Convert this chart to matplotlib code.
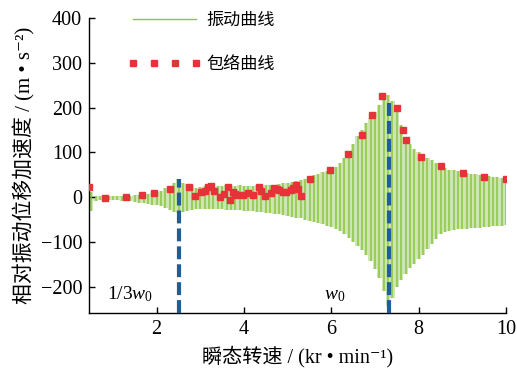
import numpy as np
import matplotlib
matplotlib.use("Agg")
import matplotlib.pyplot as plt

plt.rcParams['font.family'] = ['Liberation Serif', 'DejaVu Serif', 'Noto Sans CJK SC']
plt.rcParams['mathtext.fontset'] = 'custom'
plt.rcParams['mathtext.rm'] = 'Liberation Serif'
plt.rcParams['mathtext.it'] = 'Liberation Serif:italic'

# ---- data ----
speed = np.round(np.arange(0.5, 10.01, 0.1), 2)  # kr/min sample positions
vib_upper = [12, 4, 3, 3, 2, 3, 2, 3, 4, 3,
             5, 6, 7, 8, 10, 12, 15, 20, 25, 32,
             40, 33, 30, 25, 20, 24, 26, 25, 24, 26,
             25, 27, 26, 25, 27, 26, 25, 26, 27, 26,
             27, 28, 28, 30, 31, 32, 34, 36, 38, 42,
             46, 49, 53, 56, 59, 62, 68, 76, 88, 100,
             120, 136, 150, 165, 178, 190, 205, 220, 228, 215,
             192, 162, 135, 120, 108, 100, 92, 88, 83, 77,
             71, 66, 62, 60, 58, 56, 54, 53, 51, 50,
             48, 47, 46, 45, 44, 43]
vib_lower = [-30, -8, -6, -6, -5, -6, -6, -8, -8, -9,
             -10, -12, -12, -14, -16, -18, -20, -24, -28, -32,
             -35, -33, -30, -28, -26, -25, -25, -26, -26, -27,
             -27, -28, -28, -28, -29, -30, -30, -31, -32, -33,
             -34, -35, -37, -38, -40, -41, -43, -45, -47, -50,
             -53, -55, -58, -60, -63, -66, -70, -75, -82, -90,
             -100, -108, -118, -128, -142, -160, -180, -210, -242, -225,
             -200, -185, -170, -158, -148, -138, -128, -115, -103, -92,
             -82, -78, -75, -72, -71, -70, -70, -69, -69, -68,
             -67, -66, -65, -64, -63, -62]

env_x = [0.45, 0.81, 1.29, 1.66, 1.95, 2.30, 2.73, 2.88, 3.02, 3.10, 3.17, 3.25,
         3.32, 3.44, 3.55, 3.63, 3.67, 3.74, 3.80, 3.85, 3.97, 4.08, 4.20, 4.35,
         4.40, 4.47, 4.62, 4.69, 4.75, 4.81, 4.90, 4.96, 5.07, 5.13, 5.19, 5.23,
         5.30, 5.51, 5.97, 6.38, 6.70, 6.93, 7.17, 7.50, 7.64, 7.72, 8.06, 8.51,
         9.02, 9.50, 10.0]
env_y = [24, -2, 1, 5, 9, 18, 24, 2, 13, 15, 24, 26,
         15, 1, 8, 22, -5, 11, 8, 6, 6, 9, 6, 22,
         14, 3, 9, 20, 18, 16, 13, 11, 16, 20, 28, 18,
         3, 42, 62, 97, 138, 183, 226, 200, 151, 128, 91, 69,
         54, 46, 42]

res_x = [2.52, 7.32]     # 1/3 w0 and w0
res_top = [41, 221]

xticks = [2, 4, 6, 8, 10]
yticks = [-200, -100, 0, 100, 200, 300, 400]

green = '#8cc63e'
green_fill = '#cce5b2'
red = '#e8323a'
blue = '#1f5f98'

W, H = 517, 368
fig = plt.figure(figsize=(W / 100, H / 100), dpi=100)
ax = fig.add_axes([89 / W, 1 - 313 / H, (506 - 89) / W, (313 - 18) / H])

ymin, ymax = -258, 400
ax.fill_between(speed, vib_lower, vib_upper, color=green_fill, lw=0, step='mid')
ax.vlines(speed, vib_lower, vib_upper, color=green, lw=1.1)
ax.plot([], [], color=green, lw=1.0, label='振动曲线')

ax.plot(env_x, env_y, linestyle='none', marker='s', ms=4, color=red,
        mec=red, label='包络曲线', zorder=4)

for xv, tv in zip(res_x, res_top):
    ax.plot([xv, xv], [ymin, tv], color=blue, lw=3, dashes=(3.1, 1.2),
            solid_capstyle='butt', dash_capstyle='butt', zorder=5)

ax.set_xlim(0.45, 10)
ax.set_ylim(ymin, ymax)
ax.set_xticks(xticks)
ax.set_yticks(yticks)
ax.tick_params(direction='in', length=4, width=1, labelsize=14.5, pad=5)
for s in ['top', 'right']:
    ax.spines[s].set_visible(False)
for s in ['left', 'bottom']:
    ax.spines[s].set_linewidth(1.0)

ax.set_xlabel('瞬态转速 / (kr • min⁻¹)', fontsize=14.5, labelpad=5)
ax.set_ylabel('相对振动位移加速度 / (m • s⁻²)', fontsize=15, labelpad=4)

ax.text(0.86, -217, r'$\mathregular{1/3}\mathit{w}_{\mathregular{0}}$', fontsize=14,
        ha='left', va='center')
ax.text(5.84, -220, r'$\mathit{w}_{\mathregular{0}}$', fontsize=14,
        ha='left', va='center')

leg = ax.legend(loc='upper left', bbox_to_anchor=(128 / W, 1 - 13 / H),
                bbox_transform=fig.transFigure, frameon=False, fontsize=12.3,
                handlelength=4.3, handletextpad=0.3, labelspacing=1.65,
                numpoints=4, borderpad=0, borderaxespad=0)

fig.savefig('out.png', dpi=100)
